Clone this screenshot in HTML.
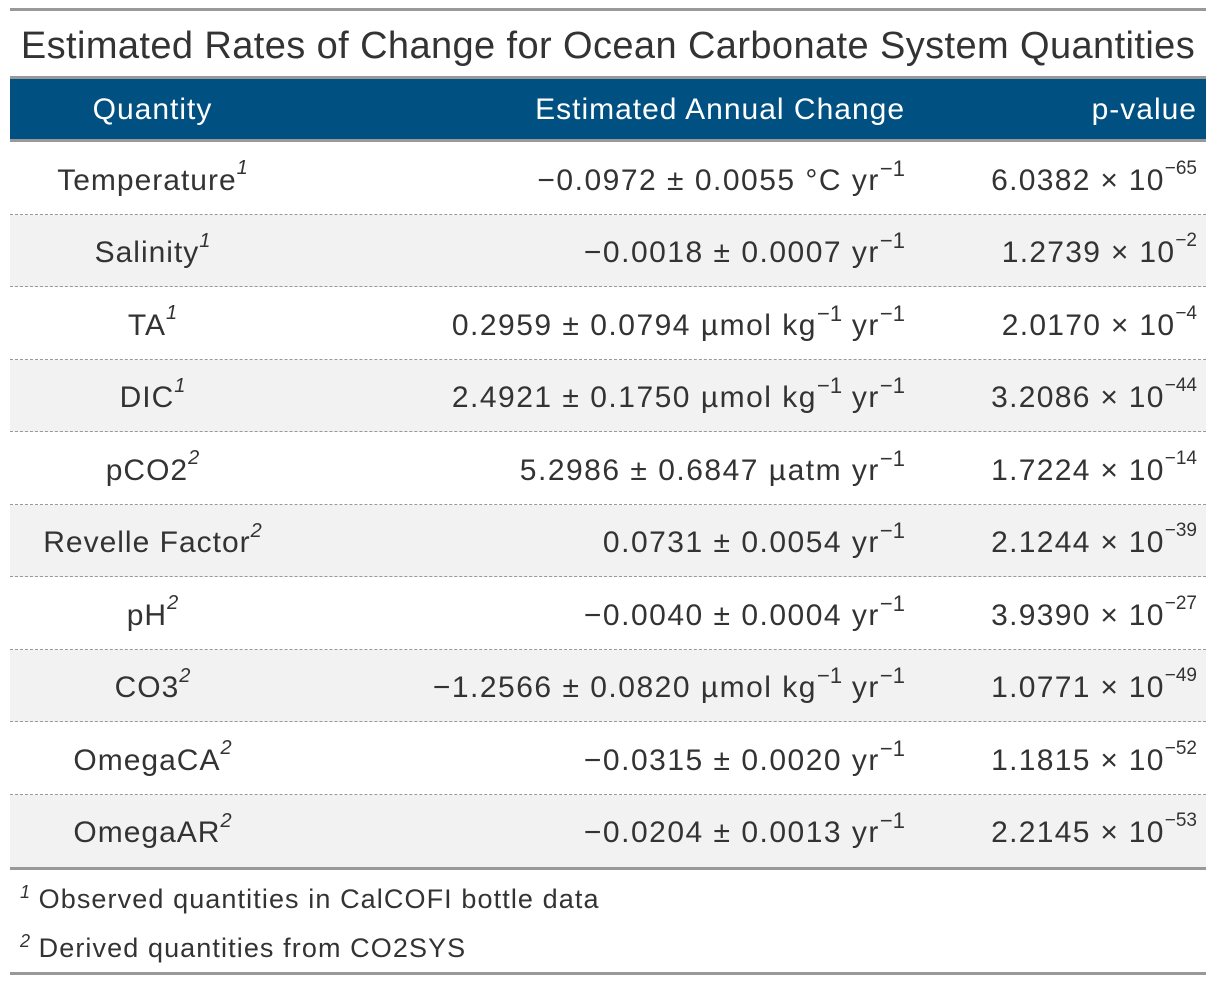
<!DOCTYPE html>
<html><head><meta charset="utf-8"><style>
body{margin:0;width:1216px;height:982px;background:#fff;font-family:"Liberation Sans",sans-serif;color:#333;position:relative;overflow:hidden}
.a{position:absolute}
.hl{position:absolute;left:10px;width:1196px}
.row{position:absolute;left:10px;width:1196px;height:72.5px}
.c{position:absolute;top:0;height:100%;box-sizing:border-box;padding-top:5px;display:flex;align-items:center;font-size:30px;letter-spacing:1px;white-space:nowrap}
.q{left:0;width:285px;justify-content:center}
.e{right:301px;justify-content:flex-end;letter-spacing:1.5px}
.p{right:9px;justify-content:flex-end;letter-spacing:1.3px}
sup{font-size:22px;vertical-align:0;position:relative;top:-12px;letter-spacing:0}
sup.i{font-style:italic;font-size:20px}
.dash{position:absolute;left:10px;width:1196px;height:0;border-top:1.5px dashed #999}
</style></head><body>
<div class="hl" style="top:8px;height:3px;background:#999"></div>
<div class="a" style="left:10px;width:1196px;top:24px;text-align:center;font-size:38px;letter-spacing:0.4px;line-height:44px">Estimated Rates of Change for Ocean Carbonate System Quantities</div>
<div class="hl" style="top:76px;height:3px;background:#999"></div>
<div class="row" style="top:79px;height:60px;background:#005082;color:#fff">
<div class="c q" style="padding-top:2px">Quantity</div>
<div class="c e" style="padding-top:2px;letter-spacing:1px">Estimated Annual Change</div>
<div class="c p" style="padding-top:2px;letter-spacing:1px">p-value</div>
</div>
<div class="hl" style="top:139px;height:3px;background:#999"></div>
<div id="body"></div>
<div class="hl" style="top:867px;height:3px;background:#999"></div>
<div class="a" style="left:20px;top:881px;font-size:27px;letter-spacing:1.1px;line-height:36px"><sup class="i" style="font-size:18px;top:-10px">1</sup> Observed quantities in CalCOFI bottle data</div>
<div class="a" style="left:20px;top:930px;font-size:27px;letter-spacing:1.1px;line-height:36px"><sup class="i" style="font-size:18px;top:-10px">2</sup> Derived quantities from CO2SYS</div>
<div class="hl" style="top:972px;height:3px;background:#999"></div>
<script>
const quantities=["Temperature","Salinity","TA","DIC","pCO2","Revelle Factor","pH","CO3","OmegaCA","OmegaAR"];
const notes=["1","1","1","1","2","2","2","2","2","2"];
const changes=["\u22120.0972 \u00b1 0.0055 \u00b0C yr","\u22120.0018 \u00b1 0.0007 yr","0.2959 \u00b1 0.0794 \u00b5mol kg<sup>\u22121</sup>&nbsp;yr","2.4921 \u00b1 0.1750 \u00b5mol kg<sup>\u22121</sup>&nbsp;yr","5.2986 \u00b1 0.6847 \u00b5atm yr","0.0731 \u00b1 0.0054 yr","\u22120.0040 \u00b1 0.0004 yr","\u22121.2566 \u00b1 0.0820 \u00b5mol kg<sup>\u22121</sup>&nbsp;yr","\u22120.0315 \u00b1 0.0020 yr","\u22120.0204 \u00b1 0.0013 yr"];
const pMant=["6.0382","1.2739","2.0170","3.2086","1.7224","2.1244","3.9390","1.0771","1.1815","2.2145"];
const pExp=["\u221265","\u22122","\u22124","\u221244","\u221214","\u221239","\u221227","\u221249","\u221252","\u221253"];
const body=document.getElementById('body');
quantities.forEach((q,i)=>{
  const r=document.createElement('div');
  r.className='row';
  
  
  r.style.top=(142+i*72.5)+'px';
  r.style.background=i%2?'#f2f2f2':'#fff';
  r.innerHTML='<div class="c q">'+q+'<sup class="i">'+notes[i]+'</sup></div>'+
   '<div class="c e">'+changes[i]+'<sup>\u22121</sup></div>'+
   '<div class="c p">'+pMant[i]+' \u00d7 10<sup style="font-size:19px">'+pExp[i]+'</sup></div>';
  body.appendChild(r);
  if(i<9){
    const d=document.createElement('div');
    d.className='dash';
    
    
    d.style.top=(142+(i+1)*72.5-1)+'px';
    body.appendChild(d);
  }
});
</script>
</body></html>
